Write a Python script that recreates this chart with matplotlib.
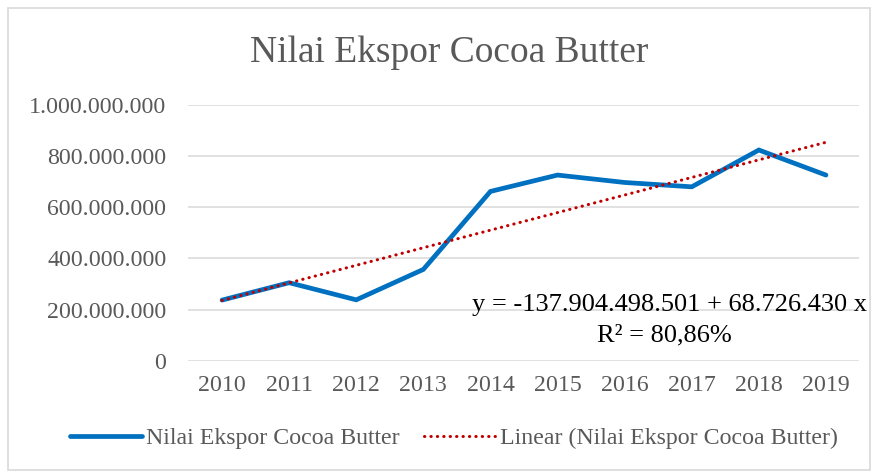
import matplotlib.pyplot as plt
from matplotlib.patches import Rectangle
from matplotlib.ticker import FuncFormatter

plt.rcParams['font.family'] = ['Liberation Serif', 'DejaVu Serif']

years = ['2010', '2011', '2012', '2013', '2014', '2015', '2016', '2017', '2018', '2019']
ekspor = [237e6, 305e6, 238e6, 357e6, 662e6, 726e6, 697e6, 680e6, 824e6, 726e6]

# trendline coefficients (x = year)
intercept = -137904498501
slope = 68726430
r2_label = '80,86%'

W, H = 878, 475
fig = plt.figure(figsize=(W / 100, H / 100), dpi=100)
fig.patch.set_facecolor('white')
fig.patches.append(Rectangle((8 / W, 5 / H), 862 / W, 462 / H, transform=fig.transFigure,
                             fill=False, edgecolor='#D9D9D9', linewidth=1.2))

ax = fig.add_axes([188.5 / W, (H - 360.7) / H, 671 / W, 255.7 / H])
xs = list(range(len(years)))
yr = [int(y) for y in years]
trend = [intercept + slope * y for y in yr]

line1, = ax.plot(xs, ekspor, color='#0070C0', linewidth=3.4, solid_capstyle='round',
                 solid_joinstyle='miter', zorder=3, label='Nilai Ekspor Cocoa Butter')
line2, = ax.plot(xs, trend, color='#C00000', linewidth=2.2, linestyle=(0, (0.1, 2.0)),
                 dash_capstyle='round', zorder=4, label='Linear (Nilai Ekspor Cocoa Butter)')

ax.set_xlim(-0.5, len(years) - 0.5)
ax.set_ylim(0, 1e9)
ax.set_yticks([0, 2e8, 4e8, 6e8, 8e8, 1e9])
ax.yaxis.set_major_formatter(FuncFormatter(lambda v, p: f'{int(v):,}'.replace(',', '.')))
ax.set_xticks(xs)
ax.set_xticklabels(years)
ax.grid(axis='y', color='#D9D9D9', linewidth=1.1)
ax.set_axisbelow(True)
for s in ax.spines.values():
    s.set_visible(False)
ax.tick_params(length=0, labelsize=17.2, colors='#595959', pad=16)
ax.tick_params(axis='x', pad=10)

fig.text(449 / W, 1 - 53 / H, 'Nilai Ekspor Cocoa Butter', ha='center', va='center',
         fontsize=27, color='#595959')

eq = 'y = {} + {} x'.format(f'{intercept:,}'.replace(',', '.'), f'{slope:,}'.replace(',', '.'))
fig.text(670 / W, 1 - 305 / H, eq, ha='center', va='center', fontsize=19, color='black')
fig.text(664 / W, 1 - 335 / H, 'R\u00b2 = ' + r2_label, ha='center', va='center', fontsize=19,
         color='black')

fig.legend(handles=[line1, line2], loc='center', bbox_to_anchor=(454 / W, 1 - 438 / H),
           ncol=2, frameon=False, prop={'family': 'Liberation Serif', 'size': 17.2},
           labelcolor='#595959', handlelength=3.0, handletextpad=0.2, columnspacing=1.0)

fig.savefig('out.png', dpi=100)
